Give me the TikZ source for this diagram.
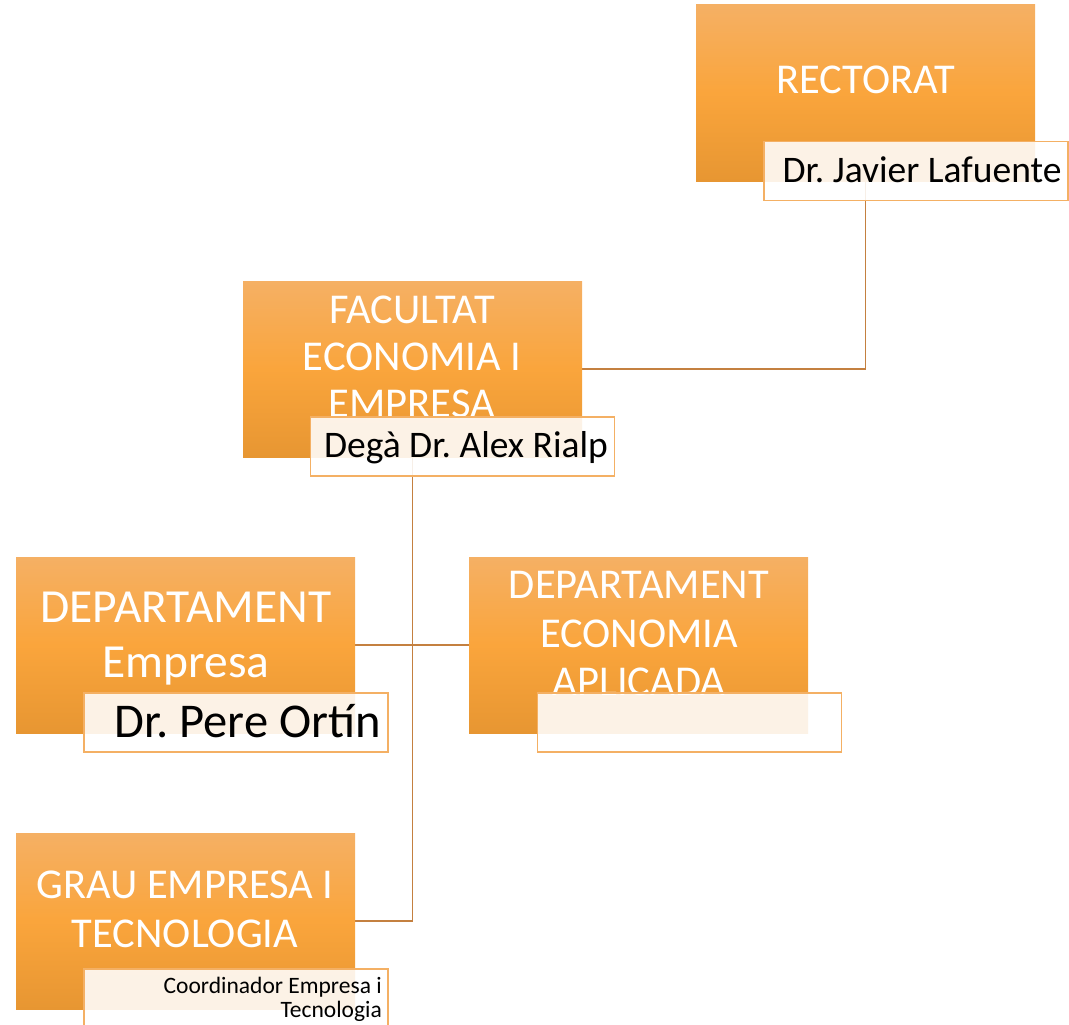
\documentclass[tikz,border=0pt]{standalone}
\usepackage{fontspec}
\setmainfont{Carlito}
\usetikzlibrary{backgrounds}
\definecolor{conn}{RGB}{196,128,64}
\definecolor{gtop}{RGB}{245,176,100}
\definecolor{gmid}{RGB}{250,165,60}
\definecolor{gbot}{RGB}{231,150,50}
\definecolor{labline}{RGB}{244,176,100}
\newcommand{\fsz}[1]{\fontsize{#1}{#1}\selectfont}
\frenchspacing
\begin{document}
\begin{tikzpicture}[x=1pt,y=-1pt,
  orgbox/.style={rectangle, inner sep=0pt, minimum width=339pt, minimum height=176pt,
    top color=gtop, bottom color=gbot, middle color=gmid},
  labbox/.style={rectangle, inner sep=0pt, minimum width=304pt, minimum height=59pt,
    draw=labline, line width=1.2pt, fill=white, fill opacity=0.88},
  ttl/.style={anchor=base, text=white, inner sep=0pt},
  lbl/.style={anchor=base, text=black, inner sep=0pt},
  link/.style={draw=conn, line width=1.1pt}]
\useasboundingbox (0,0) rectangle (1069,1025);
% boxes
\node[orgbox] (rect) at (865.5,93) {};
\node[orgbox] (fac) at (412.5,369) {};
\node[orgbox] (d1) at (185.5,645) {};
\node[orgbox] (d2) at (638.5,645) {};
\node[orgbox] (grau) at (185.5,921) {};
% connectors (behind boxes)
\begin{pgfonlayer}{background}
\path[link] (rect.south) |- (fac.east);
\path[link] (fac.south) |- (grau.east);
\path[link] (d1.east) -- (d2.west);
\end{pgfonlayer}
% titles
\node[ttl, font=\fsz{42.5}] (t1) at (866,93) {RECTORAT};
\node[ttl, font=\fsz{42.5}] (t2a) at (412,323) {FACULTAT};
\node[ttl, font=\fsz{42.5}] (t2b) at (412,370) {ECONOMIA I};
\node[ttl, font=\fsz{42.5}] (t2c) at (412,417) {EMPRESA};
\node[ttl, font=\fsz{47.5}] (t3a) at (186,622) {DEPARTAMENT};
\node[ttl, font=\fsz{47.5}] (t3b) at (186,677) {Empresa};
\node[ttl, font=\fsz{42.5}] (t4a) at (639,598) {DEPARTAMENT};
\node[ttl, font=\fsz{42.5}] (t4b) at (639,647) {ECONOMIA};
\node[ttl, font=\fsz{42.5}] (t4c) at (639,695) {APLICADA};
\node[ttl, font=\fsz{42.5}] (t5a) at (185,898) {GRAU EMPRESA I};
\node[ttl, font=\fsz{42.5}] (t5b) at (185,947) {TECNOLOGIA};
% label boxes
\node[labbox] (rlab) at (916,171) {};
\node[labbox] (flab) at (462.5,446.5) {};
\node[labbox] (d1lab) at (236,722.5) {};
\node[labbox] (d2lab) at (689.5,722.5) {};
\node[labbox] (glab) at (236,998.5) {};
% label texts
\node[lbl, font=\fsz{37.5}] (l1) at (922,182) {Dr. Javier Lafuente};
\node[lbl, font=\fsz{37.5}] (l2) at (466,457) {Degà Dr. Alex Rialp};
\node[lbl, font=\fsz{48.5}] (l3) at (247.5,737) {Dr. Pere Ortín};
\node[lbl, anchor=base east, font=\fsz{23.5}] (l5a) at (382,993) {Coordinador Empresa i};
\node[lbl, anchor=base east, font=\fsz{23.5}] (l5b) at (382,1017) {Tecnologia};
\end{tikzpicture}
\end{document}
